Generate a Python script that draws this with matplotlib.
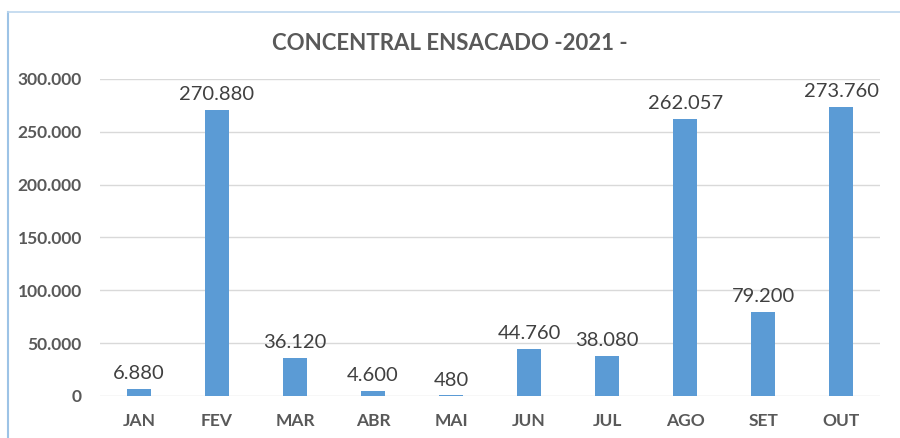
import matplotlib
matplotlib.use("Agg")
import matplotlib.pyplot as plt
from matplotlib.lines import Line2D

months = ["JAN", "FEV", "MAR", "ABR", "MAI", "JUN", "JUL", "AGO", "SET", "OUT"]
values = [6880, 270880, 36120, 4600, 480, 44760, 38080, 262057, 79200, 273760]
yticks = [0, 50000, 100000, 150000, 200000, 250000, 300000]

def fmt(v):
    return f"{v:,}".replace(",", ".")

plt.rcParams['font.family'] = ['Lato', 'DejaVu Sans']

fig = plt.figure(figsize=(9, 4.38), dpi=100)
ax = fig.add_axes([0.111, 0.096, 0.867, 0.724])

x = list(range(len(months)))
bars = ax.bar(x, values, width=0.31, color="#5B9BD5", zorder=3)
for xi, v in zip(x, values):
    ax.annotate(fmt(v), (xi, v), xytext=(0, 5), textcoords="offset points",
                ha="center", va="bottom", fontsize=14.5, color="#404040")

ax.set_xlim(-0.5, len(months) - 0.5)
ax.set_ylim(0, 300000)
ax.set_yticks(yticks)
ax.set_yticklabels([fmt(t) for t in yticks], fontsize=12.5, fontweight="bold", color="#595959")
ax.set_xticks(x)
ax.set_xticklabels(months, fontsize=12.5, fontweight="bold", color="#595959")
ax.tick_params(length=0)
ax.tick_params(axis="x", pad=12)
ax.tick_params(axis="y", pad=13)
ax.grid(axis="y", color="#D9D9D9", linewidth=1, zorder=0)
for s in ax.spines.values():
    s.set_visible(False)

fig.text(0.5, 0.9, "CONCENTRAL ENSACADO -2021 -", ha="center", va="center",
         fontsize=16, fontweight="bold", color="#595959")

# chart frame
fig.add_artist(Line2D([8/900, 8/900], [0, 1 - 12/438], transform=fig.transFigure,
                      color="#9DC3E6", linewidth=1.5))
fig.add_artist(Line2D([8/900, 1], [1 - 12/438, 1 - 12/438], transform=fig.transFigure,
                      color="#BDD7EE", linewidth=1.2))

fig.savefig("out.png", dpi=100)
